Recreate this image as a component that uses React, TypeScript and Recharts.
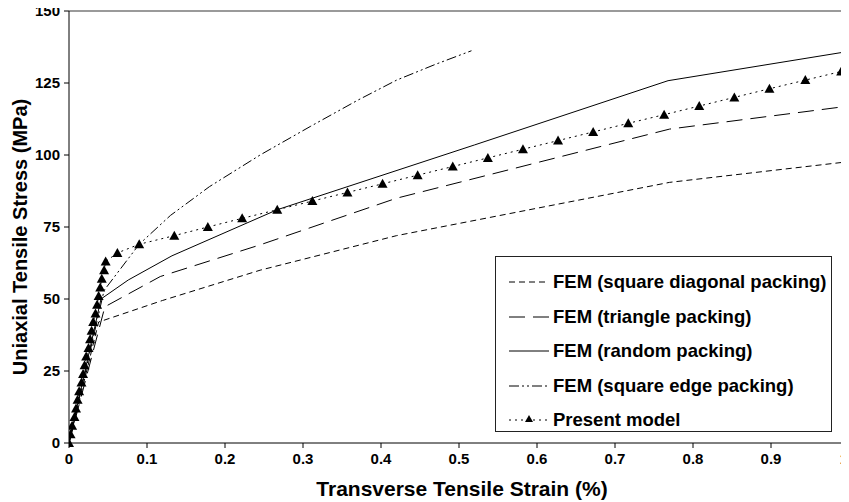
import React from 'react';
import { LineChart, Line, XAxis, YAxis, ReferenceLine, Legend, Label } from 'recharts';

// ---- data (strain %, stress MPa) ----
const squareDiagStrain = [0, 0.038, 0.12, 0.245, 0.42, 0.77, 1.0];
const squareDiagStress = [0, 42, 49.5, 60, 72, 90.5, 97.7];

const triangleStrain = [0, 0.046, 0.117, 0.245, 0.42, 0.77, 1.0];
const triangleStress = [0, 47.3, 57.8, 68.8, 85, 109, 117];

const randomStrain = [0, 0.041, 0.076, 0.132, 0.267, 0.52, 0.768, 1.0];
const randomStress = [0, 50, 56.6, 65, 81, 103.5, 125.8, 136];

const squareEdgeStrain = [0, 0.045, 0.09, 0.13, 0.18, 0.245, 0.31, 0.37, 0.42, 0.47, 0.516];
const squareEdgeStress = [0, 53, 69, 79, 89, 100, 110, 119, 126, 131.5, 136.2];

const modelStrain = [
  0, 0.002, 0.004, 0.007, 0.009, 0.011, 0.013, 0.016, 0.018, 0.02, 0.022,
  0.025, 0.027, 0.029, 0.031, 0.034, 0.036, 0.038, 0.04, 0.042, 0.045, 0.047,
  0.062, 0.09, 0.135, 0.178, 0.222, 0.267, 0.312, 0.357, 0.402, 0.447, 0.492,
  0.537, 0.582, 0.627, 0.672, 0.717, 0.763, 0.808, 0.853, 0.898, 0.944, 0.99,
];
const modelStress = [
  0, 3, 6, 9, 12, 15, 18, 21, 24, 27, 30,
  33, 36, 39, 42, 45, 48, 51, 54, 57, 60, 63,
  66, 69, 72, 75, 78, 81, 84, 87, 90, 93, 96,
  99, 102, 105, 108, 111, 114, 117, 120, 123, 126, 129,
];

const xTicks = [0, 0.1, 0.2, 0.3, 0.4, 0.5, 0.6, 0.7, 0.8, 0.9, 1];
const xTickLabels = ['0', '0.1', '0.2', '0.3', '0.4', '0.5', '0.6', '0.7', '0.8', '0.9', '1'];
const yTicks = [0, 25, 50, 75, 100, 125, 150];
const yTickLabels = ['0', '25', '50', '75', '100', '125', '150'];

const seriesNames = [
  'FEM (square diagonal packing)',
  'FEM (triangle packing)',
  'FEM (random packing)',
  'FEM (square edge packing)',
  'Present model',
];

const zip = (xs: number[], ys: number[]) => xs.map((x, i) => ({ x, y: ys[i] }));

const squareDiagData = zip(squareDiagStrain, squareDiagStress);
const triangleData = zip(triangleStrain, triangleStress);
const randomData = zip(randomStrain, randomStress);
const squareEdgeData = zip(squareEdgeStrain, squareEdgeStress);
const modelData = zip(modelStrain, modelStress);

const FONT = "'Liberation Sans', Arial, Helvetica, sans-serif";

const dashes = ['6 4', '16 8', undefined, '10 3 2 3 2 3', '2 4'];

const Triangle = (props: any) => {
  const { cx, cy } = props;
  if (cx == null || cy == null) return null;
  return (
    <path
      d={`M${cx},${cy - 5} L${cx + 5},${cy + 4} L${cx - 5},${cy + 4} Z`}
      fill="#000"
      stroke="none"
    />
  );
};

const XTick = (props: any) => {
  const { x, y, index } = props;
  const last = index === xTickLabels.length - 1;
  return (
    <text
      x={last ? x - 1 : x}
      y={y}
      dy="0.71em"
      textAnchor={last ? 'end' : 'middle'}
      fontFamily={FONT}
      fontSize={15}
      fontWeight="bold"
      fill="#000"
    >
      {xTickLabels[index]}
    </text>
  );
};

const LegendBox = () => (
  <div
    style={{
      boxSizing: 'border-box',
      width: 337,
      height: 176,
      border: '1px solid #222',
      background: '#fff',
      position: 'relative',
      fontFamily: FONT,
    }}
  >
    {seriesNames.map((name, i) => {
      const cy = 25 + i * 34.5;
      return (
        <div key={name} style={{ position: 'absolute', left: 0, top: cy - 12, height: 24, width: 335 }}>
          <svg width={56} height={24} style={{ position: 'absolute', left: 0, top: 0 }}>
            <line x1={13} y1={12} x2={53} y2={12} stroke="#000" strokeWidth={1} strokeDasharray={dashes[i]} />
            {i === 4 && <path d="M33,7 L37,14 L29,14 Z" fill="#000" />}
          </svg>
          <span
            style={{
              position: 'absolute',
              left: 57,
              top: 0,
              lineHeight: '24px',
              fontSize: 18.5,
              fontWeight: 'bold',
              color: '#000',
              whiteSpace: 'nowrap',
            }}
          >
            {name}
          </span>
        </div>
      );
    })}
  </div>
);

export default function App() {
  return (
    <div style={{ position: 'relative', top: -8, left: -8, width: 833, height: 494 }}>
      <LineChart width={849} height={502} margin={{ top: 11, right: 0, bottom: 0, left: 0 }}>
        <XAxis
          dataKey="x"
          type="number"
          domain={[0, 1]}
          ticks={xTicks}
          interval={0}
          allowDataOverflow
          height={59}
          tickSize={5}
          tickMargin={5}
          axisLine={{ stroke: '#000', strokeWidth: 1 }}
          tickLine={{ stroke: '#000' }}
          tick={<XTick />}
        >
          <Label
            content={() => (
              <text
                x={462}
                y={496}
                textAnchor="middle"
                fontFamily={FONT}
                fontSize={21}
                fontWeight="bold"
                fill="#000"
              >
                Transverse Tensile Strain (%)
              </text>
            )}
          />
        </XAxis>
        <YAxis
          dataKey="y"
          type="number"
          domain={[0, 150]}
          ticks={yTicks}
          interval={0}
          tickFormatter={(v: number, i: number) => yTickLabels[i]}
          width={69}
          tickSize={5}
          tickMargin={4}
          axisLine={{ stroke: '#000', strokeWidth: 1 }}
          tickLine={{ stroke: '#000' }}
          tick={{ fill: '#000', fontSize: 15, fontWeight: 'bold', fontFamily: FONT }}
        >
          <Label
            content={() => (
              <text
                x={20}
                y={237}
                transform="rotate(-90 20 237)"
                textAnchor="middle"
                dominantBaseline="central"
                fontFamily={FONT}
                fontSize={20}
                fontWeight="bold"
                fill="#000"
              >
                Uniaxial Tensile Stress (MPa)
              </text>
            )}
          />
        </YAxis>
        <ReferenceLine y={150} stroke="#9a9a9a" strokeWidth={2} />
        <Line
          data={squareDiagData}
          dataKey="y"
          name={seriesNames[0]}
          type="linear"
          stroke="#000"
          strokeWidth={1}
          strokeDasharray={dashes[0]}
          dot={false}
          activeDot={false}
          isAnimationActive={false}
        />
        <Line
          data={triangleData}
          dataKey="y"
          name={seriesNames[1]}
          type="linear"
          stroke="#000"
          strokeWidth={1}
          strokeDasharray={dashes[1]}
          dot={false}
          activeDot={false}
          isAnimationActive={false}
        />
        <Line
          data={randomData}
          dataKey="y"
          name={seriesNames[2]}
          type="linear"
          stroke="#000"
          strokeWidth={1}
          dot={false}
          activeDot={false}
          isAnimationActive={false}
        />
        <Line
          data={squareEdgeData}
          dataKey="y"
          name={seriesNames[3]}
          type="linear"
          stroke="#000"
          strokeWidth={1}
          strokeDasharray={dashes[3]}
          dot={false}
          activeDot={false}
          isAnimationActive={false}
        />
        <Line
          data={modelData}
          dataKey="y"
          name={seriesNames[4]}
          type="linear"
          stroke="#000"
          strokeWidth={1}
          strokeDasharray={dashes[4]}
          dot={<Triangle />}
          activeDot={false}
          isAnimationActive={false}
        />
        <Legend
          layout="vertical"
          align="center"
          verticalAlign="middle"
          content={() => <LegendBox />}
          wrapperStyle={{ position: 'absolute', left: 495, top: 256, width: 337, height: 176 }}
        />
      </LineChart>
    </div>
  );
}
